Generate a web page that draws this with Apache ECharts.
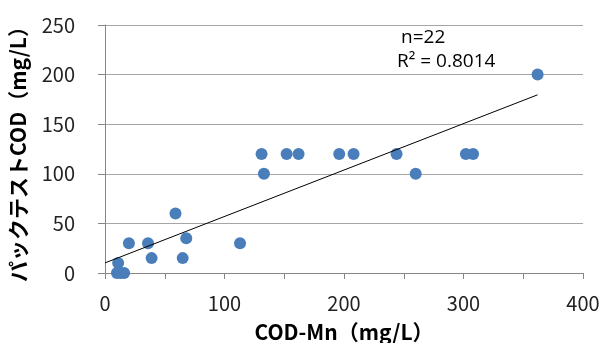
<!DOCTYPE html>
<html>
<head>
<meta charset="utf-8">
<script src="https://cdn.jsdelivr.net/npm/echarts@6/dist/echarts.min.js"></script>
<style>
  html, body { margin: 0; padding: 0; background: #fff; }
  #chart { width: 600px; height: 343px; }
</style>
</head>
<body>
<div id="chart"></div>
<script>
// COD-Mn (mg/L) vs パックテストCOD (mg/L)
const codMn = [10, 16, 13, 11, 20, 36, 39, 59, 65, 68, 113, 131, 133, 152, 162, 196, 208, 244, 260, 302, 308, 362];
const packTest = [0, 0, 0, 10, 30, 30, 15, 60, 15, 35, 30, 120, 100, 120, 120, 120, 120, 120, 100, 120, 120, 200];
const xTicks = [0, 100, 200, 300, 400];
const yTicks = [0, 50, 100, 150, 200, 250];
const noteN = "n=22";
const noteR2 = "R² = 0.8014";

const points = codMn.map((x, i) => [x, packTest[i]]);

// least squares trendline, drawn from 0 to the largest x
const n = points.length;
const mx = codMn.reduce((a, b) => a + b, 0) / n;
const my = packTest.reduce((a, b) => a + b, 0) / n;
let sxy = 0, sxx = 0;
points.forEach(([x, y]) => { sxy += (x - mx) * (y - my); sxx += (x - mx) * (x - mx); });
const slope = sxy / sxx;
const intercept = my - slope * mx;
const xMax = Math.max(...codMn);
const trend = [[0, intercept], [xMax, intercept + slope * xMax]];

const font = '"Noto Sans CJK JP", "Noto Sans", sans-serif';
const chart = echarts.init(document.getElementById("chart"));

chart.setOption({
  animation: false,
  grid: { left: 105, right: 17, top: 25, bottom: 70, outerBoundsMode: "none" },
  xAxis: {
    type: "value",
    min: xTicks[0],
    max: xTicks[xTicks.length - 1],
    interval: 50,
    name: "COD-Mn（mg/L）",
    nameLocation: "middle",
    nameGap: 49,
    nameTextStyle: { fontFamily: font, fontSize: 21, fontWeight: "bold", color: "#000" },
    axisLine: { lineStyle: { color: "#868686" } },
    axisTick: { show: true, length: 6, lineStyle: { color: "#868686" } },
    axisLabel: {
      margin: 20,
      fontFamily: font,
      fontSize: 20,
      color: "#222",
      formatter: (v) => (xTicks.includes(v) ? String(v) : ""),
    },
    splitLine: { show: false },
  },
  yAxis: {
    type: "value",
    min: yTicks[0],
    max: yTicks[yTicks.length - 1],
    interval: 50,
    name: "パックテストCOD（mg/L）",
    nameLocation: "middle",
    nameGap: 76,
    nameTextStyle: { fontFamily: font, fontSize: 21, fontWeight: "bold", color: "#000" },
    axisLine: { show: true, lineStyle: { color: "#868686" } },
    axisTick: { show: true, length: 7, lineStyle: { color: "#868686" } },
    axisLabel: { margin: 30, fontFamily: font, fontSize: 20, color: "#222" },
    splitLine: { lineStyle: { color: "#a6a6a6" } },
  },
  series: [
    {
      type: "scatter",
      data: points,
      symbolSize: 12,
      itemStyle: { color: "#4a7ebb", opacity: 1 },
      z: 3,
    },
    {
      type: "line",
      data: trend,
      showSymbol: false,
      lineStyle: { color: "#000", width: 1 },
      z: 4,
    },
  ],
  graphic: [
    { type: "text", left: 401, top: 28, style: { text: noteN, font: '19px "Open Sans", sans-serif', fill: "#000" } },
    { type: "text", left: 397, top: 52, style: { text: noteR2, font: '19px "Open Sans", sans-serif', fill: "#000" } },
  ],
});
</script>
</body>
</html>
